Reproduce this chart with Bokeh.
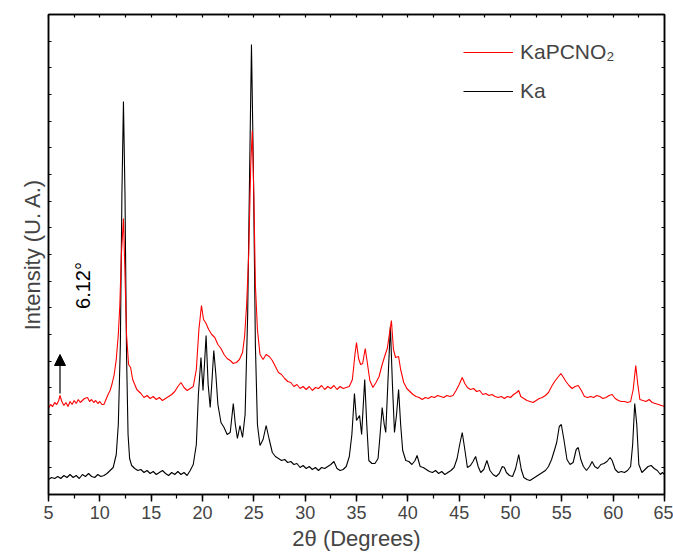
import math
from bokeh.plotting import figure
from bokeh.models import (ColumnDataSource, Legend, LegendItem, LinearAxis, SingleIntervalTicker,
                          FixedTicker, Range1d, Arrow, NormalHead, Label)
from bokeh.embed import file_html
from bokeh.resources import INLINE

# ---- data (2theta in degrees, intensity in arbitrary units) ----
ka_x = [5.0, 5.3, 5.6, 5.9, 6.2, 6.5, 6.8, 7.1, 7.4, 7.7, 8.0, 8.3, 8.6, 8.9, 9.2, 9.5, 9.8, 10.1, 10.4, 10.7,
        11.0, 11.3, 11.6, 11.8, 12.0, 12.15, 12.3, 12.45, 12.6, 12.75, 12.9, 13.1, 13.4, 13.7, 14.0, 14.3, 14.6,
        14.9, 15.2, 15.5, 15.8, 16.1, 16.4, 16.7, 17.0, 17.3, 17.6, 17.9, 18.2, 18.5, 18.8, 19.1, 19.4, 19.6,
        19.85, 20.05, 20.35, 20.55, 20.75, 20.9, 21.1, 21.3, 21.5, 21.8, 22.1, 22.4, 22.7, 23.0, 23.2, 23.4,
        23.65, 23.9, 24.15, 24.4, 24.6, 24.77, 24.95, 25.15, 25.35, 25.6, 25.9, 26.2, 26.5, 26.8, 27.1, 27.4,
        27.7, 28.0, 28.3, 28.6, 28.9, 29.2, 29.5, 29.8, 30.1, 30.4, 30.7, 31.0, 31.3, 31.6, 31.9, 32.2, 32.5,
        32.8, 33.1, 33.4, 33.7, 34.0, 34.3, 34.55, 34.8, 35.0, 35.3, 35.5, 35.8, 36.0, 36.2, 36.5, 36.8, 37.1,
        37.3, 37.5, 37.7, 37.85, 38.05, 38.3, 38.5, 38.7, 38.9, 39.1, 39.3, 39.5, 39.8, 40.1, 40.4, 40.7, 40.9,
        41.2, 41.5, 41.8, 42.1, 42.4, 42.7, 43.0, 43.3, 43.6, 43.9, 44.2, 44.5, 44.8, 45.05, 45.3, 45.55, 45.8,
        46.1, 46.35, 46.6, 46.85, 47.1, 47.4, 47.7, 48.0, 48.3, 48.6, 48.9, 49.2, 49.4, 49.6, 49.9, 50.2, 50.5,
        50.8, 51.05, 51.3, 51.6, 51.9, 52.2, 52.5, 52.8, 53.1, 53.4, 53.7, 54.0, 54.3, 54.5, 54.75, 54.95, 55.2,
        55.5, 55.8, 56.1, 56.4, 56.6, 56.85, 57.1, 57.4, 57.7, 57.95, 58.2, 58.5, 58.8, 59.1, 59.4, 59.7, 59.9,
        60.2, 60.5, 60.8, 61.1, 61.4, 61.7, 61.9, 62.1, 62.3, 62.5, 62.8, 63.1, 63.4, 63.7, 64.0, 64.3, 64.6,
        64.8, 65.0]
ka_y = [15, 17, 16, 18, 16, 19, 17, 20, 17, 19, 16, 20, 18, 21, 18, 17, 20, 18, 19, 21,
        24, 27, 40, 70, 150, 300, 393, 300, 140, 60, 36, 29, 26, 24, 25, 22, 24,
        21, 23, 20, 22, 24, 21, 19, 22, 20, 23, 20, 22, 19, 24, 30, 50, 100,
        137, 104, 159, 110, 87, 110, 144, 120, 90, 72, 67, 60, 62, 91, 70, 56,
        69, 57, 80, 180, 330, 450, 330, 150, 70, 49, 55, 69, 55, 42, 38, 36,
        34, 35, 32, 33, 30, 31, 27, 29, 26, 28, 25, 27, 24, 27, 26, 28, 30,
        33, 26, 24, 25, 28, 38, 60, 101, 74, 79, 60, 115, 70, 34, 31, 31, 36,
        60, 87, 70, 62, 110, 168, 110, 62, 80, 105, 70, 44, 34, 33, 30, 34, 39,
        28, 27, 25, 23, 22, 24, 21, 23, 20, 22, 24, 27, 36, 50, 62, 45, 27,
        29, 33, 38, 28, 22, 25, 34, 24, 20, 18, 21, 28, 27, 22, 19, 18, 26,
        40, 25, 17, 15, 14, 16, 18, 20, 22, 24, 28, 35, 45, 52, 68, 70, 55,
        35, 30, 32, 45, 47, 35, 28, 24, 28, 33, 28, 26, 30, 31, 33, 37, 34,
        25, 22, 23, 22, 24, 28, 50, 91, 70, 30, 22, 25, 28, 29, 26, 24, 20,
        22, 20]

kap_x = [5.0, 5.2, 5.4, 5.6, 5.8, 6.0, 6.12, 6.3, 6.5, 6.7, 6.9, 7.1, 7.3, 7.5, 7.7, 7.9, 8.1, 8.3, 8.5, 8.8,
         9.0, 9.2, 9.4, 9.6, 9.8, 10.0, 10.2, 10.4, 10.6, 10.8, 11.0, 11.2, 11.4, 11.6, 11.8, 11.95, 12.1, 12.3,
         12.45, 12.6, 12.8, 13.0, 13.2, 13.4, 13.6, 13.8, 14.0, 14.3, 14.6, 14.9, 15.2, 15.5, 15.8, 16.1, 16.4,
         16.7, 17.0, 17.3, 17.6, 17.9, 18.2, 18.5, 18.8, 19.1, 19.4, 19.65, 19.9, 20.1, 20.35, 20.6, 20.9, 21.2,
         21.5, 21.8, 22.1, 22.4, 22.7, 23.0, 23.3, 23.6, 23.9, 24.1, 24.3, 24.5, 24.7, 24.85, 25.0, 25.15, 25.35,
         25.6, 25.9, 26.2, 26.5, 26.8, 27.1, 27.4, 27.7, 28.0, 28.3, 28.6, 28.9, 29.2, 29.5, 29.8, 30.1, 30.4,
         30.7, 31.0, 31.3, 31.6, 31.9, 32.2, 32.5, 32.8, 33.1, 33.4, 33.7, 34.0, 34.3, 34.6, 34.85, 35.0, 35.2,
         35.4, 35.6, 35.85, 36.05, 36.3, 36.6, 36.9, 37.2, 37.5, 37.8, 38.0, 38.2, 38.4, 38.6, 38.8, 39.1, 39.3,
         39.6, 39.9, 40.2, 40.5, 40.8, 41.1, 41.4, 41.7, 42.0, 42.3, 42.6, 42.9, 43.2, 43.5, 43.8, 44.1, 44.4,
         44.7, 45.0, 45.3, 45.55, 45.8, 46.1, 46.4, 46.7, 47.0, 47.3, 47.6, 47.9, 48.2, 48.5, 48.8, 49.1, 49.4,
         49.7, 50.0, 50.3, 50.6, 50.8, 51.0, 51.3, 51.6, 51.9, 52.2, 52.5, 52.8, 53.1, 53.4, 53.7, 54.0, 54.3,
         54.6, 54.9, 55.1, 55.4, 55.7, 56.0, 56.3, 56.6, 56.9, 57.2, 57.5, 57.8, 58.1, 58.4, 58.7, 59.0, 59.3,
         59.6, 59.9, 60.2, 60.5, 60.8, 61.1, 61.4, 61.7, 61.95, 62.2, 62.4, 62.6, 62.9, 63.2, 63.5, 63.8, 64.1,
         64.4, 64.7, 65.0]
kap_y = [86, 90, 88, 92, 90, 94, 99, 93, 89, 92, 88, 93, 90, 94, 91, 95, 92, 94, 96, 97,
         93, 95, 92, 94, 91, 93, 90, 90, 95, 100, 104, 111, 120, 135, 160, 190, 240, 276,
         220, 160, 130, 127, 115, 110, 105, 103, 101, 97, 99, 96, 98, 95, 97, 94, 96,
         98, 100, 103, 108, 112, 107, 104, 106, 108, 125, 165, 189, 175, 171, 165, 160, 157,
         150, 146, 140, 136, 134, 131, 132, 135, 142, 158, 190, 240, 330, 364, 300, 210, 165,
         140, 135, 140, 138, 134, 128, 122, 120, 116, 113, 112, 108, 110, 106, 108, 105, 108,
         104, 107, 106, 109, 105, 108, 106, 109, 105, 108, 106, 107, 108, 115, 140, 152, 136,
         130, 131, 146, 132, 114, 107, 112, 118, 130, 140, 146, 160, 174, 145, 137, 138, 125,
         112, 106, 103, 100, 98, 97, 95, 97, 96, 98, 97, 99, 98, 97, 99, 98, 99,
         104, 110, 117, 111, 107, 105, 106, 103, 104, 100, 101, 99, 100, 98, 97, 98, 96,
         98, 97, 100, 102, 104, 98, 96, 94, 93, 92, 94, 96, 97, 99, 102, 108, 113,
         117, 121, 118, 113, 109, 106, 108, 109, 104, 98, 97, 98, 97, 99, 98, 96, 97,
         99, 100, 96, 94, 93, 93, 92, 93, 105, 129, 110, 95, 94, 93, 95, 92, 91,
         90, 89, 88]

series_names = ["KaPCNO\u2082", "Ka"]
x_ticks_major = 5
x_label = "2\u03b8 (Degrees)"
y_label = "Intensity (U. A.)"
peak_note = "6.12\u00b0"
peak_note_x = 6.12

FONT = "Liberation Sans"
X0, X1, Y0, Y1 = 5, 65, 0, 480
Y_STEP = (Y1 - Y0) / 18

x_minor = [X0 + 2.5 * i for i in range(int((X1 - X0) / 2.5) + 1)]
y_minor = [Y0 + Y_STEP * i for i in range(19)]

p = figure(width=673, height=558, output_backend="svg", toolbar_location=None,
           x_range=Range1d(X0, X1), y_range=Range1d(Y0, Y1),
           min_border_left=48, min_border_right=9, min_border_top=14, min_border_bottom=64,
           background_fill_color="white", border_fill_color="white")
p.grid.visible = False
p.outline_line_color = "black"
p.outline_line_width = 1.5

src_ka = ColumnDataSource(dict(x=ka_x, y=ka_y))
src_kap = ColumnDataSource(dict(x=kap_x, y=kap_y))
r_ka = p.line("x", "y", source=src_ka, line_color="black", line_width=1.1)
r_kap = p.line("x", "y", source=src_kap, line_color="#ff0000", line_width=1.1)

# bottom axis
xa = p.xaxis[0]
xa.ticker = SingleIntervalTicker(interval=x_ticks_major, num_minor_ticks=2)
xa.axis_label = x_label
xa.axis_label_text_font = FONT
xa.axis_label_text_font_style = "normal"
xa.axis_label_text_font_size = "22px"
xa.axis_label_standoff = 4
xa.major_label_text_font = FONT
xa.major_label_text_font_size = "18px"
xa.major_label_standoff = 4
xa.major_tick_out = 7
xa.major_tick_in = 0
xa.minor_tick_out = 4
xa.minor_tick_in = 0
xa.axis_line_width = 1.5
xa.major_tick_line_width = 1.5
xa.minor_tick_line_width = 1.2


def unlabeled(axis, minor):
    axis.ticker = FixedTicker(ticks=[], minor_ticks=minor)
    axis.minor_tick_in = 3
    axis.minor_tick_out = 0
    axis.minor_tick_line_width = 1.2
    axis.major_tick_in = 0
    axis.major_tick_out = 0
    axis.axis_line_width = 1.5
    axis.major_label_standoff = 0


# left axis (label only, inward ticks)
ya = p.yaxis[0]
unlabeled(ya, y_minor)
ya.axis_label = y_label
ya.axis_label_text_font = FONT
ya.axis_label_text_font_style = "normal"
ya.axis_label_text_font_size = "22px"
ya.axis_label_standoff = 4

# top axis
ta = LinearAxis()
unlabeled(ta, x_minor)
p.add_layout(ta, "above")

# right axis
ra = LinearAxis()
unlabeled(ra, y_minor)
p.add_layout(ra, "right")

# legend
legend = Legend(items=[LegendItem(label=series_names[0], renderers=[r_kap]),
                       LegendItem(label=series_names[1], renderers=[r_ka])],
                location=(415, 388), orientation="vertical")
legend.label_text_font = FONT
legend.label_text_font_size = "21px"
legend.glyph_width = 50
legend.glyph_height = 30
legend.label_height = 30
legend.label_standoff = 7
legend.spacing = 9
legend.padding = 0
legend.margin = 0
legend.border_line_color = None
legend.background_fill_alpha = 0
p.add_layout(legend, "center")

# arrow at 6.12 degrees
idx = kap_x.index(peak_note_x)
ys = kap_y[idx] + 2
p.add_layout(Arrow(end=NormalHead(size=11, fill_color="black", line_color="black"),
                   x_start=peak_note_x, y_start=ys, x_end=peak_note_x, y_end=ys + 39,
                   line_color="black", line_width=1.2))
p.add_layout(Label(x=peak_note_x + 2.2, y=ys + 108, text=peak_note, angle=math.pi / 2,
                   text_align="center", text_baseline="middle",
                   text_font=FONT, text_font_size="20px", text_color="black"))

open("out.html", "w").write(file_html(p, INLINE))
